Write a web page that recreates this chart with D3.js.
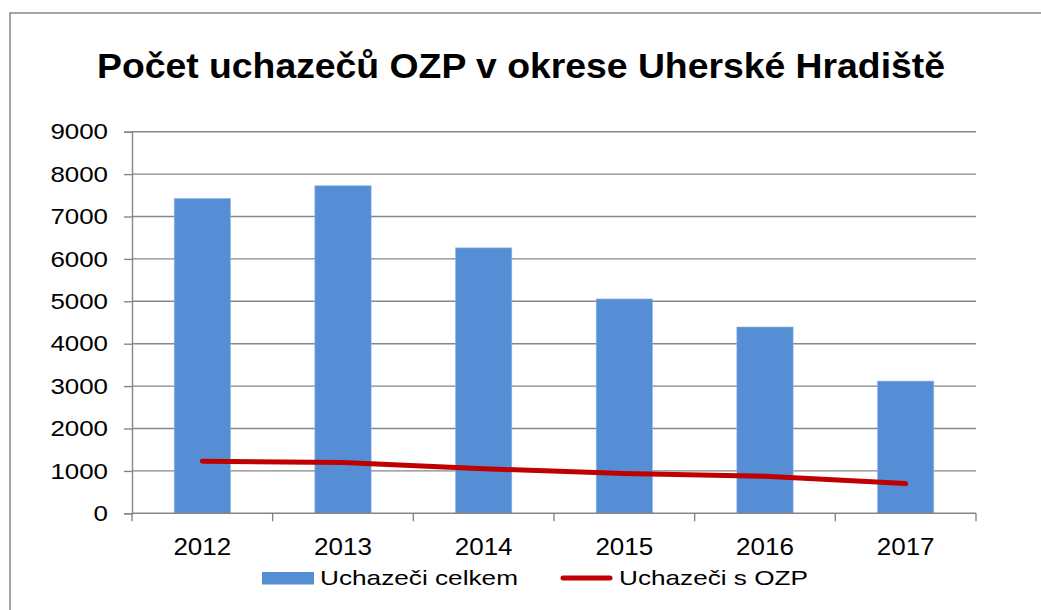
<!DOCTYPE html>
<html><head><meta charset="utf-8">
<script src="https://cdn.jsdelivr.net/npm/d3@7"></script>
<style>body{margin:0;background:#fff}svg{display:block}text{font-family:"Liberation Sans",Arial,sans-serif;fill:#000}</style>
</head><body>
<svg id="c" width="1041" height="610"></svg>
<script>
const title = "Počet uchazečů OZP v okrese Uherské Hradiště";
const years = ["2012","2013","2014","2015","2016","2017"];
const celkem = [7425, 7725, 6260, 5055, 4394, 3118];
const sOZP = [1228, 1198, 1050, 938, 874, 701];
const yTicks = [0,1000,2000,3000,4000,5000,6000,7000,8000,9000];
const seriesNames = ["Uchazeči celkem", "Uchazeči s OZP"];

const svg = d3.select("#c");
const grid = "#868686";
const L = 132, R = 976, T = 131.7, B = 513.3;

// outer border
svg.append("rect").attr("x",10).attr("y",13).attr("width",1200).attr("height",800)
  .attr("fill","none").attr("stroke",grid).attr("stroke-width",1.5);

const x = d3.scaleBand().domain(years).range([L,R]).paddingInner(0.6).paddingOuter(0.3);
const y = d3.scaleLinear().domain([0,9000]).range([B,T]);

function stretch(sel, f){
  sel.each(function(){ const w=this.getComputedTextLength(); d3.select(this).attr("textLength", w*f).attr("lengthAdjust","spacingAndGlyphs"); });
}

// gridlines
svg.append("g").selectAll("line").data(yTicks.filter(d=>d>0)).join("line")
  .attr("x1",L).attr("x2",R).attr("y1",d=>y(d)).attr("y2",d=>y(d))
  .attr("stroke",grid).attr("stroke-width",1.4);

// y axis
const ya = svg.append("g").attr("transform",`translate(${L},0)`)
  .call(d3.axisLeft(y).tickValues(yTicks).tickSize(8).tickPadding(16).tickFormat(d3.format("d")));
ya.select(".domain").attr("stroke",grid).attr("stroke-width",1.4);
ya.selectAll(".tick line").attr("stroke",grid).attr("stroke-width",1.4);
ya.selectAll(".tick text").attr("font-size",22.5).attr("font-family","Liberation Sans, Arial, sans-serif").attr("fill","#000");
stretch(ya.selectAll(".tick text"), 1.15);

// bars
svg.append("g").selectAll("rect").data(years).join("rect")
  .attr("x",d=>x(d)).attr("width",x.bandwidth())
  .attr("y",(d,i)=>y(celkem[i])).attr("height",(d,i)=>y(0)-y(celkem[i]))
  .attr("fill","#558ED5").attr("stroke","#8fb4e3").attr("stroke-width",0.6);

// x axis
const boundaries = d3.range(years.length+1).map(i=>L + i*x.step());
const xa = svg.append("g");
xa.append("line").attr("x1",L).attr("x2",R).attr("y1",y(0)).attr("y2",y(0)).attr("stroke",grid).attr("stroke-width",1.4);
xa.selectAll("line.t").data(boundaries).join("line").attr("class","t")
  .attr("x1",d=>d).attr("x2",d=>d).attr("y1",y(0)).attr("y2",y(0)+8).attr("stroke",grid).attr("stroke-width",1.4);
const xl = xa.selectAll("text").data(years).join("text")
  .attr("x",d=>x(d)+x.bandwidth()/2).attr("y",555).attr("text-anchor","middle")
  .attr("font-size",23).text(d=>d);
stretch(xl, 1.13);

// line
const line = d3.line().x((d,i)=>x(years[i])+x.bandwidth()/2).y(d=>y(d));
svg.append("path").datum(sOZP).attr("d",line).attr("fill","none")
  .attr("stroke","#C00000").attr("stroke-width",5).attr("stroke-linecap","round").attr("stroke-linejoin","round");

// title
svg.append("text").attr("x",521).attr("y",77.5).attr("text-anchor","middle")
  .attr("font-size",35.5).attr("font-weight","bold").attr("textLength",848).attr("lengthAdjust","spacingAndGlyphs").text(title);

// legend
const lg = svg.append("g");
lg.append("rect").attr("x",262).attr("y",572).attr("width",52).attr("height",12.5).attr("fill","#558ED5");
const t1 = lg.append("text").attr("x",320).attr("y",585).attr("font-size",21).text(seriesNames[0]);
lg.append("line").attr("x1",563).attr("x2",610).attr("y1",578).attr("y2",578).attr("stroke","#C00000").attr("stroke-width",5).attr("stroke-linecap","round");
const t2 = lg.append("text").attr("x",619).attr("y",585).attr("font-size",21).text(seriesNames[1]);
t1.attr("textLength",198).attr("lengthAdjust","spacingAndGlyphs");
t2.attr("textLength",189).attr("lengthAdjust","spacingAndGlyphs");
</script>
</body></html>
